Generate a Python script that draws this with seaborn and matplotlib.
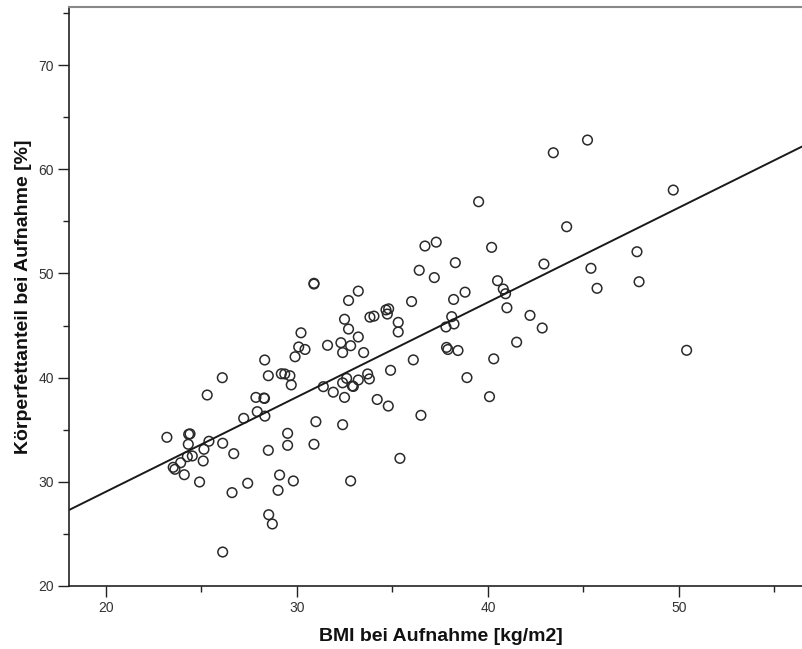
import matplotlib
matplotlib.use("Agg")
import matplotlib.pyplot as plt
import seaborn as sns
import numpy as np
import pandas as pd
from matplotlib.ticker import MultipleLocator

# BMI at admission (x) and body fat percentage (y)
bmi = [45.21, 43.42, 49.70, 44.12, 42.93, 47.80, 45.39, 45.71, 47.91, 42.84, 50.40,
       39.51, 36.70, 37.29, 40.19, 38.29, 36.40, 37.19, 30.89, 30.89, 33.21, 32.70,
       36.00, 38.20, 38.80, 40.50, 40.80, 40.92, 40.99, 42.20, 41.50, 40.30, 38.90,
       40.08, 38.43, 37.83, 37.90, 38.10, 38.22, 37.80, 36.09, 34.90, 34.20, 35.30,
       35.30, 34.66, 34.80, 34.73, 33.82, 34.03, 32.49, 32.70, 33.21, 33.49, 32.30,
       32.81, 32.39, 31.60, 30.42, 30.21, 30.09, 29.90, 31.38, 31.90, 32.39, 32.60,
       32.90, 32.95, 33.21, 33.70, 33.79, 32.49, 34.78, 36.49, 30.99, 32.39, 30.89,
       35.39, 32.81, 28.31, 28.50, 29.18, 29.36, 29.63, 29.70, 26.09, 25.30, 27.85,
       28.27, 28.30, 27.92, 28.32, 27.21, 23.19, 24.33, 24.40, 24.31, 25.39, 26.11,
       24.26, 24.52, 25.13, 25.09, 26.69, 28.50, 29.51, 29.51, 23.52, 23.61, 23.91,
       24.10, 24.90, 26.60, 27.42, 29.09, 29.81, 29.01, 28.52, 28.71, 26.11]
fat = [62.80, 61.58, 58.00, 54.48, 50.90, 52.08, 50.49, 48.57, 49.20, 44.76, 42.62,
       56.88, 52.63, 53.00, 52.50, 51.03, 50.30, 49.60, 48.98, 49.05, 48.30, 47.40,
       47.30, 47.50, 48.20, 49.30, 48.50, 48.05, 46.70, 45.97, 43.40, 41.80, 40.00,
       38.17, 42.60, 42.90, 42.70, 45.85, 45.15, 44.86, 41.70, 40.70, 37.90, 45.30,
       44.38, 46.50, 46.60, 46.10, 45.80, 45.90, 45.60, 44.66, 43.90, 42.40, 43.35,
       43.06, 42.40, 43.10, 42.70, 44.30, 42.94, 42.00, 39.13, 38.60, 39.50, 39.93,
       39.20, 39.15, 39.77, 40.35, 39.87, 38.10, 37.27, 36.38, 35.77, 35.48, 33.60,
       32.25, 30.08, 41.69, 40.18, 40.37, 40.35, 40.18, 39.30, 39.99, 38.33, 38.10,
       38.04, 38.00, 36.73, 36.30, 36.09, 34.27, 34.56, 34.60, 33.60, 33.89, 33.70,
       32.41, 32.48, 33.12, 32.00, 32.70, 33.02, 34.65, 33.50, 31.39, 31.20, 31.83,
       30.68, 29.98, 28.96, 29.86, 30.65, 30.08, 29.18, 26.84, 25.95, 23.26]

# Fit line as drawn in the chart
fit_intercept = 10.87
fit_slope = 0.909

x_ticks = [20, 30, 40, 50]
y_ticks = [20, 30, 40, 50, 60, 70]

df = pd.DataFrame({"BMI": bmi, "Fett": fat})

sns.set_style("ticks")
plt.rcParams['font.family'] = ['Liberation Sans', 'DejaVu Sans']

fig = plt.figure(figsize=(8.02, 6.49), dpi=100)
ax = fig.add_axes([0.0864, 0.0971, 0.9136, 0.8926])

sns.scatterplot(data=df, x="BMI", y="Fett", ax=ax, s=48, marker="o",
                facecolor="none", edgecolor="#2a2a2a", linewidth=1.1)

ax.axline((0, fit_intercept), slope=fit_slope, color="#1a1a1a", lw=1.4)

ax.set_xlim(18.08, 56.44)
ax.set_ylim(20, 75.6)
ax.set_xticks(x_ticks)
ax.set_yticks(y_ticks)
ax.xaxis.set_minor_locator(MultipleLocator(5))
ax.yaxis.set_minor_locator(MultipleLocator(5))
ax.tick_params(which="major", length=8, width=1, color="#222222",
               labelsize=10, labelcolor="#333333", pad=3)
ax.tick_params(which="minor", length=4, width=1, color="#222222")

for s in ["left", "bottom"]:
    ax.spines[s].set_color("#222222")
    ax.spines[s].set_linewidth(1.2)
ax.spines["top"].set_color("#888888")
ax.spines["top"].set_linewidth(1.5)
ax.spines["right"].set_visible(False)

ax.set_xlabel("BMI bei Aufnahme [kg/m2]", fontsize=14, fontweight="bold",
              color="#111111")
ax.set_ylabel("Körperfettanteil bei Aufnahme [%]", fontsize=14, fontweight="bold",
              color="#111111")
ax.xaxis.set_label_coords(0.507, -0.072)
ax.yaxis.set_label_coords(-0.051, 0.50)

fig.savefig("out.png", dpi=100)
